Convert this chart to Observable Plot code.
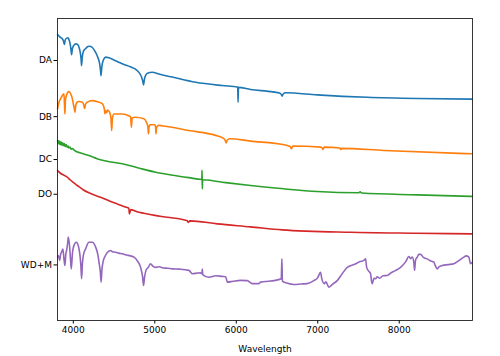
<!DOCTYPE html>
<html>
<head>
<meta charset="utf-8">
<script src="https://cdn.jsdelivr.net/npm/d3@7"></script>
<script src="https://cdn.jsdelivr.net/npm/@observablehq/plot@0.6"></script>
<style>
  html, body { margin: 0; padding: 0; background: #fff; }
  #chart { width: 500px; height: 356px; }
</style>
</head>
<body>
<div id="chart"></div>
<script>
// Spectral classes and the y positions of their labels
const typeLabels = ["DA", "DB", "DC", "DO", "WD+M"];
const labelPositions = [8.61, 6.75, 5.33, 4.18, 1.84];
const xTicks = [4000, 5000, 6000, 7000, 8000];

// [wavelength, offset flux]
const daSpectrum = [
  [3807,9.47],[3830,9.40],[3850,9.36],[3865,9.33],[3880,9.25],[3890,9.14],[3900,9.28],[3918,9.35],
  [3935,9.36],[3950,9.28],[3965,9.10],[3972,8.95],[3979,8.80],[3988,9.00],[4007,9.11],[4030,9.16],
  [4049,9.15],[4070,9.05],[4085,8.88],[4095,8.68],[4101,8.44],[4110,8.72],[4125,8.92],[4151,9.00],
  [4180,9.07],[4200,9.08],[4233,9.04],[4265,8.92],[4300,8.72],[4322,8.52],[4333,8.30],[4340,8.11],
  [4350,8.40],[4368,8.62],[4396,8.72],[4437,8.70],[4520,8.60],[4601,8.50],[4700,8.40],[4764,8.32],
  [4810,8.20],[4835,8.08],[4850,7.95],[4862,7.80],[4872,7.98],[4888,8.12],[4910,8.19],[4969,8.22],
  [5050,8.16],[5215,8.06],[5501,7.89],[5828,7.78],[6018,7.73],[6022,7.23],[6027,7.72],[6175,7.65],
  [6450,7.57],[6530,7.53],[6553,7.48],[6563,7.43],[6575,7.50],[6605,7.54],[6994,7.47],[7607,7.39],
  [8221,7.35],[8896,7.33]
];
const dbSpectrum = [
  [3807,7.01],[3815,7.12],[3823,7.22],[3844,7.34],[3865,7.45],[3885,7.51],[3891,7.20],[3897,6.84],
  [3904,7.30],[3915,7.45],[3925,7.52],[3939,7.58],[3955,7.56],[3967,7.51],[3985,7.38],[3998,7.20],
  [4010,7.05],[4020,6.90],[4030,7.12],[4045,7.22],[4069,7.25],[4110,7.23],[4128,7.14],[4139,7.02],
  [4150,7.16],[4172,7.23],[4233,7.28],[4300,7.24],[4356,7.18],[4380,7.02],[4388,6.85],[4396,6.95],
  [4410,6.88],[4420,6.97],[4445,6.90],[4462,6.70],[4471,6.29],[4480,6.70],[4498,6.84],[4601,6.84],
  [4680,6.78],[4703,6.74],[4713,6.40],[4722,6.70],[4756,6.73],[4866,6.68],[4900,6.55],[4915,6.42],
  [4922,6.18],[4930,6.42],[4945,6.48],[5001,6.48],[5010,6.40],[5015,6.18],[5022,6.40],[5050,6.46],
  [5133,6.43],[5418,6.29],[5746,6.13],[5840,6.04],[5865,5.96],[5876,5.88],[5888,5.97],[5920,6.02],
  [6175,5.94],[6584,5.82],[6660,5.76],[6678,5.69],[6695,5.78],[7034,5.74],[7060,5.70],[7065,5.66],
  [7072,5.71],[7083,5.74],[7271,5.71],[7281,5.66],[7295,5.70],[7811,5.63],[8896,5.52]
];
const dcSpectrum = [
  [3807,5.96],[3813,5.86],[3820,5.95],[3827,5.84],[3835,5.93],[3843,5.82],[3852,5.91],[3860,5.80],
  [3870,5.88],[3880,5.79],[3890,5.86],[3900,5.76],[3912,5.83],[3925,5.74],[3937,5.78],[3946,5.71],
  [3960,5.74],[3975,5.67],[3990,5.69],[4010,5.64],[4050,5.58],[4100,5.54],[4191,5.46],[4300,5.35],
  [4400,5.28],[4601,5.19],[4800,5.05],[5010,4.91],[5200,4.82],[5418,4.73],[5577,4.67],[5580,4.97],
  [5583,4.36],[5587,4.66],[5828,4.58],[6175,4.47],[6584,4.36],[6994,4.27],[7500,4.23],[7520,4.26],
  [7540,4.22],[8221,4.16],[8896,4.11]
];
const doSpectrum = [
  [3807,4.97],[3820,4.93],[3850,4.86],[3880,4.82],[3926,4.75],[3960,4.66],[4000,4.57],[4049,4.47],
  [4120,4.33],[4200,4.22],[4335,4.08],[4450,3.95],[4540,3.86],[4640,3.76],[4682,3.71],[4688,3.53],
  [4705,3.67],[4780,3.60],[4866,3.55],[5000,3.48],[5153,3.42],[5400,3.30],[5412,3.25],[5430,3.30],
  [5767,3.20],[6175,3.10],[6564,3.00],[7402,2.92],[8200,2.89],[8896,2.87]
];
const wdmSpectrum = [
  [3810,2.10],[3817,2.15],[3832,1.99],[3845,2.20],[3856,2.26],[3872,2.37],[3885,2.05],[3897,1.82],
  [3908,2.20],[3918,2.32],[3930,2.55],[3939,2.76],[3955,2.43],[3965,2.05],[3975,1.71],[3990,2.25],
  [4007,2.48],[4037,2.59],[4061,2.48],[4080,2.20],[4092,1.85],[4102,1.38],[4112,1.90],[4125,2.18],
  [4151,2.37],[4191,2.59],[4233,2.59],[4274,2.43],[4300,2.20],[4318,1.88],[4332,1.60],[4341,1.27],
  [4352,1.70],[4368,1.98],[4388,2.12],[4420,2.26],[4458,2.32],[4480,2.28],[4520,2.26],[4560,2.23],
  [4601,2.21],[4650,2.17],[4700,2.14],[4744,2.10],[4790,1.96],[4826,1.76],[4850,1.45],[4862,1.16],
  [4875,1.45],[4895,1.68],[4920,1.76],[4948,1.88],[4975,1.80],[5010,1.76],[5060,1.78],[5100,1.74],
  [5160,1.73],[5215,1.71],[5300,1.70],[5418,1.66],[5460,1.55],[5520,1.57],[5560,1.58],[5578,1.55],
  [5583,1.70],[5588,1.52],[5664,1.43],[5750,1.48],[5828,1.46],[5870,1.45],[5890,1.27],[5960,1.30],
  [6050,1.33],[6135,1.32],[6196,1.22],[6277,1.22],[6298,1.27],[6400,1.30],[6461,1.32],[6552,1.38],
  [6560,2.04],[6566,1.30],[6620,1.24],[6707,1.19],[6800,1.21],[6871,1.22],[6952,1.32],[7000,1.42],
  [7034,1.60],[7050,1.38],[7080,1.22],[7100,1.28],[7136,1.10],[7180,1.20],[7239,1.32],[7300,1.55],
  [7362,1.76],[7450,1.86],[7520,1.95],[7566,1.99],[7587,2.04],[7600,1.76],[7630,1.62],[7648,1.55],
  [7660,1.30],[7669,1.22],[7690,1.40],[7709,1.38],[7730,1.45],[7760,1.40],[7800,1.48],[7853,1.49],
  [7900,1.58],[7950,1.65],[8016,1.76],[8080,1.95],[8118,2.12],[8140,2.05],[8160,2.10],[8180,1.90],
  [8188,1.66],[8200,2.00],[8221,2.10],[8240,2.19],[8261,2.19],[8300,2.08],[8344,2.04],[8380,1.98],
  [8425,1.93],[8445,1.80],[8466,1.71],[8490,1.78],[8528,1.82],[8600,1.85],[8670,1.88],[8730,1.98],
  [8793,2.10],[8820,2.14],[8854,2.10],[8875,1.88],[8896,1.93]
];

const series = [
  {name: "DA", data: daSpectrum, color: "#1f77b4"},
  {name: "DB", data: dbSpectrum, color: "#ff7f0e"},
  {name: "DC", data: dcSpectrum, color: "#2ca02c"},
  {name: "DO", data: doSpectrum, color: "#d62728"},
  {name: "WD+M", data: wdmSpectrum, color: "#9467bd"}
];

const chart = Plot.plot({
  width: 500,
  height: 356,
  marginLeft: 57,
  marginRight: 28,
  marginTop: 18,
  marginBottom: 36,
  style: {fontFamily: "DejaVu Sans", fontSize: "9px", color: "#000", background: "#fff"},
  x: {domain: [3806, 8899]},
  y: {domain: [0, 10]},
  marks: [
    ...series.map(s => Plot.line(s.data, {x: d => d[0], y: d => d[1], stroke: s.color,
      strokeWidth: 1.6, curve: "monotone-x"})),
    Plot.axisX({ticks: xTicks, tickSize: 3.5, tickPadding: 3, tickFormat: d => String(d),
      label: "Wavelength", labelAnchor: "center", labelArrow: "none", labelOffset: 31}),
    Plot.axisY({ticks: labelPositions, tickSize: 3.5, tickPadding: 2,
      tickFormat: d => typeLabels[labelPositions.indexOf(d)], label: null}),
    Plot.frame({stroke: "#222", strokeWidth: 0.9})
  ]
});
document.getElementById("chart").appendChild(chart);
</script>
</body>
</html>
